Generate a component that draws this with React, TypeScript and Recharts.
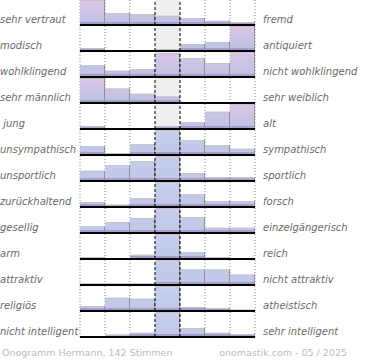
import React from 'react';
import { BarChart, Bar, XAxis, YAxis, ReferenceLine, ReferenceArea } from 'recharts';

// scale steps of the semantic differential (7 columns)
const steps = ['1', '2', '3', '4', '5', '6', '7'];
const middleStep = '4';

const leftLabels = [
  'sehr vertraut', 'modisch', 'wohlklingend', 'sehr männlich', ' jung', 'unsympathisch',
  'unsportlich', 'zurückhaltend', 'gesellig', 'arm', 'attraktiv', 'religiös', 'nicht intelligent',
];
const rightLabels = [
  'fremd', 'antiquiert', 'nicht wohlklingend', 'sehr weiblich', 'alt', 'sympathisch',
  'sportlich', 'forsch', 'einzelgängerisch', 'reich', 'nicht attraktiv', 'atheistisch', 'sehr intelligent',
];

// relative share per column (row maximum = 100)
const vertrautFremd = [100, 47, 44, 37, 28, 17, 12];
const modischAntiquiert = [11, 0, 0, 8, 28, 36, 100];
const wohlklingend = [47, 25, 32, 96, 76, 56, 100];
const maennlichWeiblich = [100, 58, 37, 26, 0, 0, 0];
const jungAlt = [11, 0, 0, 11, 27, 69, 100];
const sympathisch = [35, 8, 43, 100, 59, 39, 25];
const sportlich = [41, 63, 79, 100, 32, 15, 15];
const zurueckhaltendForsch = [20, 9, 35, 100, 51, 24, 24];
const geselligEinzel = [27, 44, 60, 100, 64, 21, 21];
const armReich = [7, 4, 17, 100, 27, 7, 2];
const attraktiv = [6, 6, 6, 100, 62, 62, 42];
const religioesAtheistisch = [20, 53, 49, 100, 16, 12, 5];
const intelligent = [3, 9, 17, 100, 36, 17, 12];

const rowValues = [
  vertrautFremd, modischAntiquiert, wohlklingend, maennlichWeiblich, jungAlt, sympathisch,
  sportlich, zurueckhaltendForsch, geselligEinzel, armReich, attraktiv, religioesAtheistisch, intelligent,
];

const footerLeft = 'Onogramm Hermann, 142 Stimmen';
const footerRight = 'onomastik.com - 05 / 2025';

const ROW_H = 26;

function BarShape(props: any) {
  const { x, y, width, height, background, index, rowIdx, polar } = props;
  if (!height || height <= 0) return null;
  const id = `grad-${rowIdx}-${index}`;
  const top = background && background.height ? background.y : y;
  const bottom = background && background.height ? background.y + background.height : y + height;
  const strip = Math.min(3, height);
  return (
    <g>
      <defs>
        <linearGradient id={id} gradientUnits="userSpaceOnUse" x1={0} y1={top} x2={0} y2={bottom}>
          <stop offset="0%" stopColor={polar ? '#dcc6e6' : '#c7cfec'} />
          <stop offset="100%" stopColor={polar ? '#bac1e5' : '#bfc6e8'} />
        </linearGradient>
      </defs>
      <rect x={x} y={y} width={width} height={height} fill={`url(#${id})`} />
      <rect x={x} y={y + height - strip} width={width} height={strip} fill="#a89ecd" />
      <line x1={x} y1={y + 0.5} x2={x + width} y2={y + 0.5} stroke="#c4c4c8" strokeWidth={1} />
      <line x1={x + width - 0.5} y1={y} x2={x + width - 0.5} y2={y + height} stroke="#929292" strokeWidth={1} />
    </g>
  );
}

function RowChart({ values, rowIdx }: { values: number[]; rowIdx: number }) {
  const data = steps.map((s, i) => ({ step: s, value: values[i] }));
  const maxIdx = values.indexOf(Math.max(...values));
  const polar = steps[maxIdx] !== middleStep;
  const midIdx = steps.indexOf(middleStep);
  const dottedStarts = steps.filter((s, i) => i !== midIdx && i !== midIdx + 1);
  return (
    <BarChart
      width={260}
      height={ROW_H}
      data={data}
      margin={{ top: 0, right: 5, bottom: 1, left: 80 }}
      barCategoryGap={0}
      barGap={0}
    >
      <XAxis dataKey="step" hide />
      <YAxis domain={[0, 100]} hide />
      <ReferenceArea
        x1={middleStep}
        x2={middleStep}
        fill="#eeeeee"
        fillOpacity={1}
        stroke="none"
        ifOverflow="visible"
        zIndex={-60}
      />
      {dottedStarts.map((s) => (
        <ReferenceLine key={'d' + s} x={s} position="start" stroke="#8a8a8a" strokeDasharray="1 2" zIndex={-50} />
      ))}
      <ReferenceLine x={steps[steps.length - 1]} position="end" stroke="#8a8a8a" strokeDasharray="1 2" zIndex={-50} />
      <Bar
        dataKey="value"
        isAnimationActive={false}
        shape={(p: any) => <BarShape {...p} rowIdx={rowIdx} polar={polar} />}
      />
      <ReferenceLine x={middleStep} position="start" stroke="#000" strokeDasharray="3 2" zIndex={900} />
      <ReferenceLine x={middleStep} position="end" stroke="#000" strokeDasharray="3 2" zIndex={900} />
      <ReferenceLine y={0} stroke="#000" strokeWidth={2} zIndex={950} />
    </BarChart>
  );
}

const labelStyle: React.CSSProperties = {
  position: 'absolute',
  fontFamily: '"DejaVu Sans", sans-serif',
  fontStyle: 'italic',
  fontSize: 10,
  lineHeight: '10px',
  color: '#6a6a6a',
  whiteSpace: 'pre',
};

const footerStyle: React.CSSProperties = {
  position: 'absolute',
  fontFamily: '"DejaVu Sans", sans-serif',
  fontSize: 9.5,
  lineHeight: '10px',
  color: '#bbbbbb',
  whiteSpace: 'pre',
};

export default function App() {
  return (
    <div style={{ position: 'absolute', left: 0, top: 0, width: 370, height: 360, background: '#fff', overflow: 'hidden' }}>
      {rowValues.map((vals, i) => (
        <div key={i} style={{ position: 'absolute', left: 0, top: i * ROW_H }}>
          <RowChart values={vals} rowIdx={i} />
        </div>
      ))}
      {leftLabels.map((t, i) => (
        <div key={'l' + i} style={{ ...labelStyle, left: 0, top: i * ROW_H + 15 }}>{t}</div>
      ))}
      {rightLabels.map((t, i) => (
        <div key={'r' + i} style={{ ...labelStyle, left: 263, top: i * ROW_H + 15 }}>{t}</div>
      ))}
      <div style={{ ...footerStyle, left: 2, top: 347.5 }}>{footerLeft}</div>
      <div style={{ ...footerStyle, right: 23, top: 347.5 }}>{footerRight}</div>
    </div>
  );
}
